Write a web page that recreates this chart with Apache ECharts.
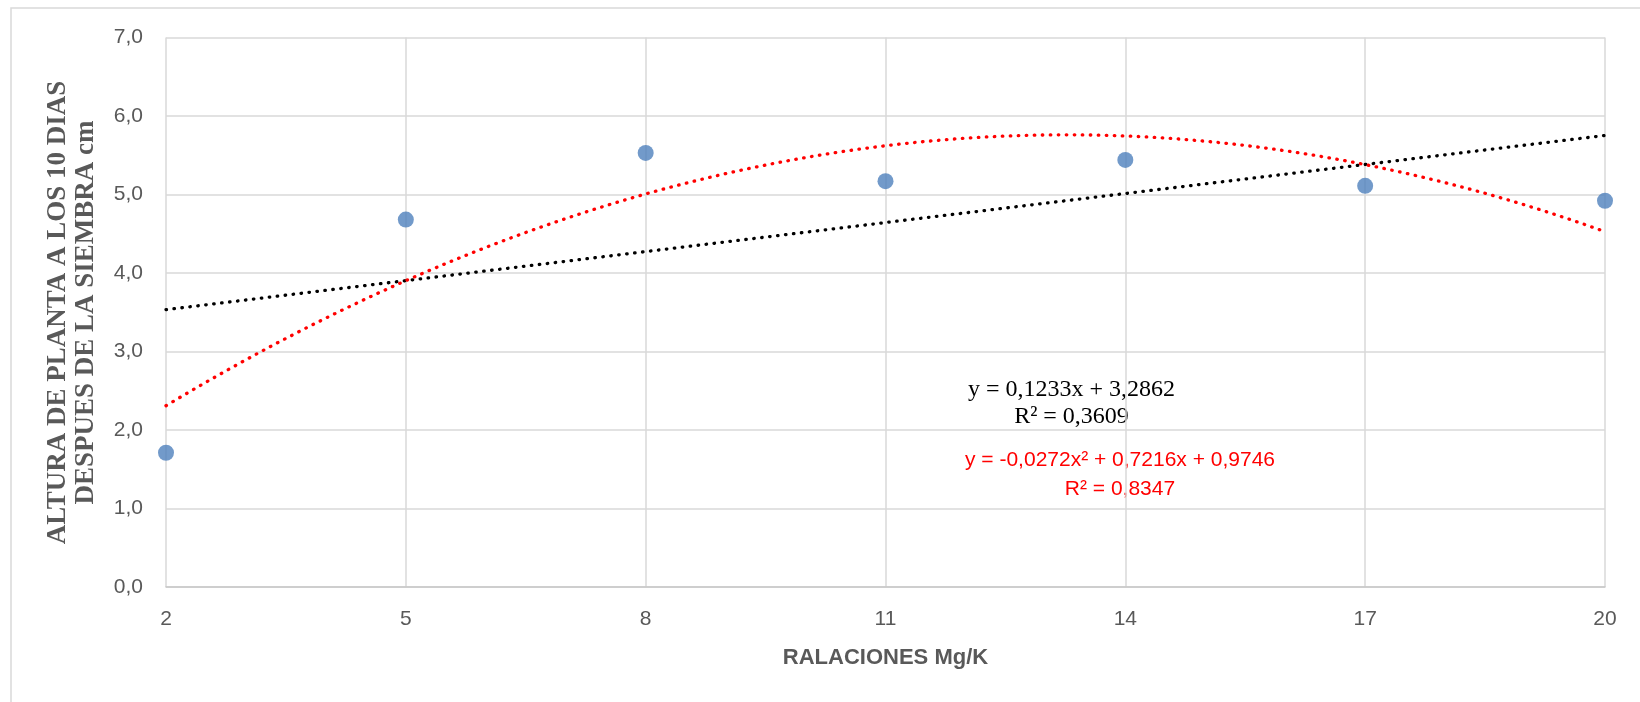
<!DOCTYPE html>
<html>
<head>
<meta charset="utf-8">
<style>
  html, body { margin: 0; padding: 0; background: #ffffff; }
  #chart { width: 1640px; height: 702px; }
</style>
<script src="https://cdn.jsdelivr.net/npm/echarts@6/dist/echarts.min.js"></script>
</head>
<body>
<div id="chart"></div>
<script>
// Mg/K ratios and measured plant height (cm) 10 days after sowing
var ratios = [2, 5, 8, 11, 14, 17, 20];
var heights = [1.71, 4.68, 5.53, 5.17, 5.44, 5.11, 4.92];

// Trendline coefficients as stated in the equation labels
var linearCoef = [0.1233, 3.2862];            // y = a x + b
var quadCoef = [-0.0272, 0.7216, 0.9746];     // y = a x^2 + b x + c
var linearLabel = ['y = 0,1233x + 3,2862', 'R² = 0,3609'];
var quadLabel = ['y = -0,0272x² + 0,7216x + 0,9746', 'R² = 0,8347'];

var xTitle = 'RALACIONES Mg/K';
var yTitle = ['ALTURA DE PLANTA A LOS 10 DIAS', 'DESPUES DE LA SIEMBRA cm'];

// Sample each trendline along the x range
function curve(fn) {
  var pts = [];
  for (var i = 0; i <= 180; i++) {
    var x = 2 + i * 0.1;
    pts.push([x, fn(x)]);
  }
  return pts;
}
var linearPts = curve(function (x) { return linearCoef[0] * x + linearCoef[1]; });
var quadPts = curve(function (x) { return quadCoef[0] * x * x + quadCoef[1] * x + quadCoef[2]; });

var chart = echarts.init(document.getElementById('chart'));
var tickFont = { color: '#595959', fontSize: 21, fontFamily: 'Liberation Sans' };
var dotted = function (color) {
  return { color: color, width: 3.3, type: [0.5, 7.5], cap: 'round' };
};

chart.setOption({
  backgroundColor: '#ffffff',
  animation: false,
  grid: { left: 166, right: 35, top: 37.5, bottom: 115 },
  xAxis: {
    type: 'value',
    min: 2, max: 20, interval: 3,
    name: xTitle,
    nameLocation: 'middle',
    nameGap: 60,
    nameTextStyle: { color: '#595959', fontSize: 22, fontWeight: 'bold', fontFamily: 'Liberation Sans' },
    axisLine: { show: true, lineStyle: { color: '#c8c8c8', width: 1.5 } },
    axisTick: { show: false },
    axisLabel: Object.assign({ margin: 22 }, tickFont),
    splitLine: { show: true, lineStyle: { color: '#d9d9d9', width: 1.5 } }
  },
  yAxis: {
    type: 'value',
    min: 0, max: 7, interval: 1,
    axisLine: { show: false },
    axisTick: { show: false },
    axisLabel: Object.assign({
      margin: 23,
      formatter: function (v) { return v.toFixed(1).replace('.', ','); }
    }, tickFont),
    splitLine: { show: true, lineStyle: { color: '#d9d9d9', width: 1.5 } }
  },
  series: [
    {
      type: 'scatter',
      data: ratios.map(function (r, i) { return [r, heights[i]]; }),
      symbol: 'circle',
      symbolSize: 16,
      itemStyle: { color: '#4f81bd' },
      z: 3
    },
    {
      type: 'line',
      data: linearPts,
      showSymbol: false,
      lineStyle: dotted('#000000'),
      z: 4
    },
    {
      type: 'line',
      data: quadPts,
      showSymbol: false,
      lineStyle: dotted('#ff0000'),
      z: 4
    }
  ],
  graphic: [
    {
      type: 'rect',
      shape: { x: 11, y: 8, width: 1660, height: 720 },
      style: { fill: 'none', stroke: '#d9d9d9', lineWidth: 1.5 },
      silent: true
    },
    {
      type: 'text',
      x: 72, y: 312.5,
      rotation: Math.PI / 2,
      style: {
        text: yTitle.join('\n'),
        fill: '#595959',
        font: 'bold 27px "Liberation Serif"',
        lineHeight: 28,
        align: 'center',
        verticalAlign: 'middle'
      }
    },
    {
      type: 'text', x: 1071.5, y: 390,
      style: { text: linearLabel[0], fill: '#000000', font: '24px "Liberation Serif"', align: 'center', verticalAlign: 'middle' }
    },
    {
      type: 'text', x: 1071.5, y: 417,
      style: { text: linearLabel[1], fill: '#000000', font: '24px "Liberation Serif"', align: 'center', verticalAlign: 'middle' }
    },
    {
      type: 'text', x: 1120, y: 460,
      style: { text: quadLabel[0], fill: '#ff0000', font: '21px "Liberation Sans"', align: 'center', verticalAlign: 'middle' }
    },
    {
      type: 'text', x: 1120, y: 489,
      style: { text: quadLabel[1], fill: '#ff0000', font: '21px "Liberation Sans"', align: 'center', verticalAlign: 'middle' }
    }
  ]
});
</script>
</body>
</html>
